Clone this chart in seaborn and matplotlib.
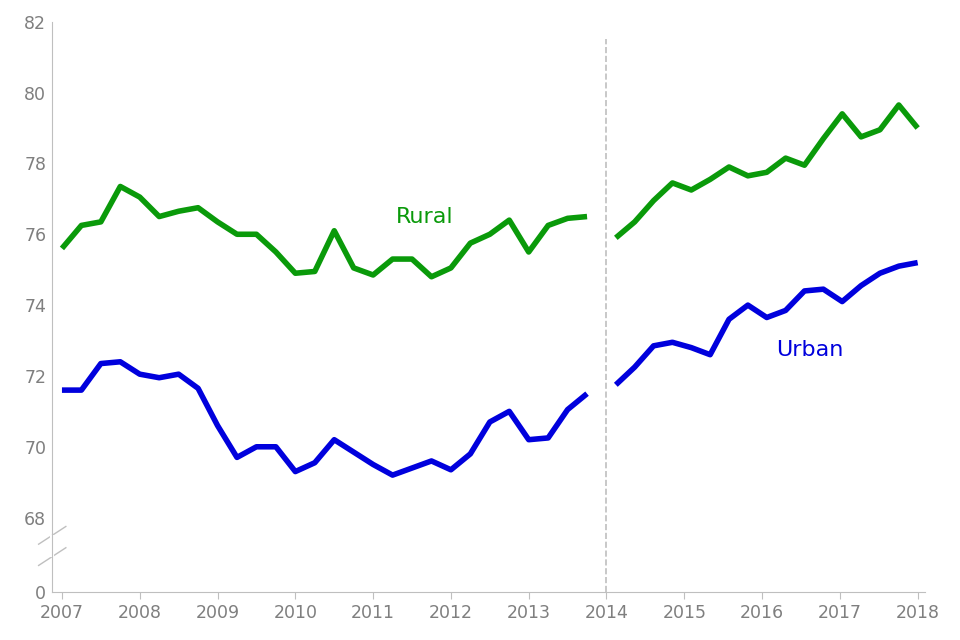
import matplotlib
matplotlib.use("Agg")
import matplotlib.pyplot as plt
import seaborn as sns
import pandas as pd
import numpy as np

rural_a = [75.6,76.25,76.35,77.35,77.05,76.5,76.65,76.75,76.35,76.0,76.0,75.5,74.9,74.95,76.1,75.05,74.85,75.3,75.3,74.8,75.05,75.75,76.0,76.4,75.5,76.25,76.45,76.5]
rural_b = [75.9,76.35,76.95,77.45,77.25,77.55,77.9,77.65,77.75,78.15,77.95,78.7,79.4,78.75,78.95,79.65,79.0]
urban_a = [71.6,71.6,72.35,72.4,72.05,71.95,72.05,71.65,70.6,69.7,70.0,70.0,69.3,69.55,70.2,69.85,69.5,69.2,69.4,69.6,69.35,69.8,70.7,71.0,70.2,70.25,71.05,71.5]
urban_b = [71.75,72.25,72.85,72.95,72.8,72.6,73.6,74.0,73.65,73.85,74.4,74.45,74.1,74.55,74.9,75.1,75.2]
years = list(range(2007, 2019))
yticks = [68,70,72,74,76,78,80,82]

xa = 2007 + 0.25*np.arange(len(rural_a))
xb = 2018 - (len(rural_b)-1)*0.2425 + 0.2425*np.arange(len(rural_b))

green = "#0a9a0a"; blue = "#0000dd"; gray = "#7f7f7f"
fig = plt.figure(figsize=(9.6, 6.4), dpi=100)
ax = fig.add_axes([0.054, 0.075, 0.91, 0.891])
for x, y, c in [(xa, rural_a, green), (xb, rural_b, green), (xa, urban_a, blue), (xb, urban_b, blue)]:
    sns.lineplot(x=x, y=y, ax=ax, color=c, lw=4, solid_capstyle="butt")

ax.set_ylim(65.9, 82)
ax.set_xlim(2006.87, 2018.1)
ax.set_yticks([65.9] + yticks)
ax.set_yticklabels(["0"] + [str(t) for t in yticks])
ax.set_xticks(years)
ax.set_xticklabels([str(y) for y in years])
ax.tick_params(colors=gray, labelsize=12.5, length=0, pad=4)
ax.tick_params(axis="x", length=5, direction="out", color="#bfbfbf")
for s in ["top", "right"]:
    ax.spines[s].set_visible(False)
for s in ["left", "bottom"]:
    ax.spines[s].set_color("#bfbfbf")
ax.axvline(2014, ymin=0, ymax=(81.5-65.9)/(82-65.9), color="#bfbfbf", ls="--", lw=1.2)
# axis break
for yb in [66.9, 67.5]:
    ax.plot([2006.7, 2007.05], [yb-0.25, yb+0.25], color="#bfbfbf", lw=1, clip_on=False)
ax.plot([2006.87, 2006.87], [66.95, 67.45], color="white", lw=3, clip_on=False)
ax.text(2008.35, 76.5, "Rural", color=green, fontsize=16, ha="center", va="center") if False else None
ax.text(2013 - 0.4 - 0.95 + 0.0, 76.5, "", color=green)
ax.text(2010.52 - 0.0 + 0.0, 76.5, "", color=green)
ax.text(2007 + (425-62)/77.8, 82 - (217-22)/35.4, "Rural", color=green, fontsize=16, ha="center", va="center")
ax.text(2007 + (810-62)/77.8, 82 - (350-22)/35.4, "Urban", color=blue, fontsize=16, ha="center", va="center")
fig.savefig("out.png", dpi=100)
